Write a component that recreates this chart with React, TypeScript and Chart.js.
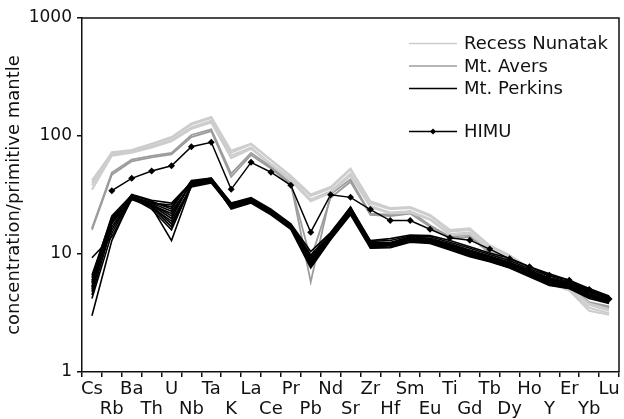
import React, { useEffect, useRef } from 'react';
import { Chart, registerables } from 'chart.js';

Chart.register(...registerables);

const elements = ['Cs', 'Rb', 'Ba', 'Th', 'U', 'Nb', 'Ta', 'K', 'La', 'Ce', 'Pr', 'Pb', 'Nd', 'Sr', 'Zr', 'Hf', 'Sm', 'Eu', 'Ti', 'Gd', 'Tb', 'Dy', 'Ho', 'Y', 'Er', 'Yb', 'Lu'];
const yTicks = [1, 10, 100, 1000];
const yTitle = 'concentration/primitive mantle';

const himu = [null, 34.4, 43.8, 50.5, 56, 81, 88.5, 35.3, 59.8, 49.3, 38.2, 15.3, 31.8, 30.2, 23.8, 19.2, 19.2, 16.2, 13.7, 13.1, 11, 9.1, 7.8, 6.6, 6.0, 5.0, 4.15];

const recess1 = [42, 72, 75, 85, 96, 125, 142, 72, 85, 62, 45, 31, 36, 52, 27, 24, 24.5, 21, 15.5, 16, 11.5, 9.6, 7.4, 5.9, 5.2, 3.7, 3.3];
const recess2 = [38, 70, 74, 82, 92, 118, 135, 68, 80, 58, 43, 29, 34, 48, 25.5, 22.5, 23, 19.8, 14.8, 15.2, 11, 9.2, 7.1, 5.7, 5.0, 3.5, 3.15];
const recess3 = [35, 68, 72, 80, 90, 115, 130, 65, 78, 57, 42, 28, 33, 46, 25, 22, 22.5, 19.5, 14.5, 14.8, 10.8, 9.0, 7.0, 5.6, 4.9, 3.3, 3.05];
const recess4 = [40, 73, 76, 86, 98, 128, 145, 75, 86, 63, 46, 32, 37, 53, 28, 24.5, 25, 21.5, 16, 16.5, 11.8, 9.8, 7.6, 6.0, 5.3, 3.8, 3.4];

const avers1 = [16.5, 49, 63, 68, 72, 102, 114, 48, 72, 55, 40, 5.8, 32, 43, 22, 21.5, 23, 17.5, 14, 14.5, 10.5, 8.8, 7.0, 5.8, 5.4, 3.9, 3.6];
const avers2 = [16, 47, 61, 66, 70, 98, 110, 45, 69, 53, 39, 9.0, 30, 41, 21.5, 21, 22, 17, 13.5, 14, 10.2, 8.6, 6.9, 5.7, 5.3, 3.8, 3.5];

const perkins1 = [3.0, 13, 30, 25, 13, 38, 42, 25, 28, 22, 17, 8.0, 14, 24, 12, 12, 13.5, 13, 11.5, 10, 9, 8, 6.8, 5.8, 5.4, 4.5, 4.0];
const perkins2 = [9.3, 14, 29, 27, 26, 40, 43, 27, 29, 23, 17.5, 9.5, 14.5, 25, 12.5, 12.5, 14, 13.5, 12, 10.5, 9.5, 8.4, 7.2, 6.2, 5.6, 4.8, 4.3];
const perkins3 = [5.0, 19, 31, 26, 20, 41, 44, 26, 29.5, 23.5, 17.8, 8.5, 14.8, 23.5, 11.5, 11.8, 13, 12.8, 11.2, 9.8, 8.8, 7.8, 6.6, 5.6, 5.2, 4.4, 3.9];
const perkins4 = [5.8, 20, 30.5, 27, 23, 39, 41, 24.5, 27.5, 22, 16.5, 7.8, 13.5, 22, 11.8, 12, 13.2, 13, 11.6, 10.2, 9.2, 8.1, 6.9, 5.9, 5.5, 4.6, 4.1];
const perkins5 = [4.5, 17, 29.5, 25.5, 18, 37, 40, 25, 28, 22.5, 16.8, 9.0, 13.8, 22.5, 11.3, 11.5, 12.8, 12.5, 11, 9.6, 8.7, 7.7, 6.5, 5.5, 5.1, 4.3, 3.85];
const perkins6 = [6.3, 21, 31.5, 28, 24, 42, 44, 27, 30, 24, 18, 10.5, 15.2, 25, 13, 13.5, 14.5, 14.3, 13, 11.5, 10.2, 9.2, 7.8, 6.8, 6.0, 5.1, 4.4];
const perkins7 = [5.3, 18, 30, 24, 16, 38.5, 42, 25.5, 28.5, 22.8, 17.2, 8.2, 14, 23, 11.6, 11.8, 13.1, 12.9, 11.4, 10, 9, 8, 6.8, 5.8, 5.3, 4.5, 4.0];
const perkins8 = [6.0, 16, 30, 26.5, 21, 40, 43, 26, 29, 23, 17.5, 9.2, 14.5, 24, 12.3, 12.4, 13.8, 13.6, 12.2, 10.8, 9.6, 8.5, 7.3, 6.3, 5.7, 4.9, 4.2];
const perkins9 = [4.8, 19.5, 31, 26, 22, 39.5, 42.5, 24, 27, 21.5, 16.2, 7.6, 13.2, 21.5, 11.2, 11.3, 12.6, 12.3, 10.8, 9.5, 8.6, 7.6, 6.4, 5.4, 5.1, 4.2, 3.8];
const perkins10 = [5.6, 18.5, 29, 25, 19, 37.5, 41, 25, 28.2, 22.4, 17, 8.6, 14.2, 23.5, 12, 12.2, 13.4, 13.2, 11.8, 10.4, 9.3, 8.3, 7.1, 6.0, 5.5, 4.7, 4.2];
const perkins11 = [6.6, 20.5, 30, 27.5, 25, 41, 43.5, 26.5, 29.5, 23.6, 17.8, 9.8, 15, 24.5, 12.8, 13, 14.2, 14, 12.6, 11.2, 9.9, 8.8, 7.5, 6.5, 5.8, 5.0, 4.3];
const perkins12 = [4.2, 15, 30, 25, 17, 38, 41.5, 25, 28, 22.2, 16.8, 8.3, 13.8, 22.8, 11.7, 11.9, 13, 12.8, 11.3, 9.9, 8.9, 7.9, 6.7, 5.7, 5.3, 4.4, 3.9];
const perkins13 = [5.2, 19, 32, 28.5, 27, 40.5, 43, 25.8, 28.8, 23, 17.3, 9.0, 14.3, 23.2, 12.1, 12.3, 13.6, 13.4, 12, 10.6, 9.4, 8.3, 7.0, 6.1, 5.6, 4.8, 4.2];

const recessSeries = [recess1, recess2, recess3, recess4];
const aversSeries = [avers1, avers2];
const perkinsSeries = [perkins1, perkins2, perkins3, perkins4, perkins5, perkins6, perkins7, perkins8, perkins9, perkins10, perkins11, perkins12, perkins13];

const legendLabels = ['Recess Nunatak', 'Mt. Avers', 'Mt. Perkins', 'HIMU'];

const RECESS_COLOR = '#cdcdcd';
const AVERS_COLOR = '#9c9c9c';
const PERKINS_COLOR = '#000000';
const FONT = '"DejaVu Sans", Verdana, sans-serif';

const boxPlugin = {
  id: 'boxPlugin',
  afterDraw(chart: any) {
    const { ctx, chartArea } = chart;
    ctx.save();
    ctx.strokeStyle = '#111';
    ctx.lineWidth = 1.5;
    ctx.beginPath();
    ctx.moveTo(chartArea.left, chartArea.top);
    ctx.lineTo(chartArea.right, chartArea.top);
    ctx.lineTo(chartArea.right, chartArea.bottom);
    ctx.stroke();
    ctx.restore();
  },
};

const legendPlugin = {
  id: 'customLegend',
  afterDatasetsDraw(chart: any) {
    const { ctx, chartArea } = chart;
    const x0 = chartArea.right - 210;
    const x1 = chartArea.right - 162;
    const tx = chartArea.right - 155;
    const rows = [
      { label: legendLabels[0], color: RECESS_COLOR, dy: 25.5, marker: false },
      { label: legendLabels[1], color: AVERS_COLOR, dy: 48, marker: false },
      { label: legendLabels[2], color: PERKINS_COLOR, dy: 70.5, marker: false },
      { label: legendLabels[3], color: PERKINS_COLOR, dy: 113.5, marker: true },
    ];
    ctx.save();
    ctx.font = `18px ${FONT}`;
    ctx.textBaseline = 'middle';
    ctx.textAlign = 'left';
    rows.forEach((r) => {
      const y = chartArea.top + r.dy;
      ctx.strokeStyle = r.color;
      ctx.lineWidth = 1.5;
      ctx.beginPath();
      ctx.moveTo(x0, y);
      ctx.lineTo(x1, y);
      ctx.stroke();
      if (r.marker) {
        const cx = (x0 + x1) / 2;
        ctx.fillStyle = '#000';
        ctx.beginPath();
        ctx.moveTo(cx, y - 3);
        ctx.lineTo(cx + 3, y);
        ctx.lineTo(cx, y + 3);
        ctx.lineTo(cx - 3, y);
        ctx.closePath();
        ctx.fill();
      }
      ctx.fillStyle = '#111';
      ctx.fillText(r.label, tx, y + 1);
    });
    ctx.restore();
  },
};

export default function App() {
  const canvasRef = useRef<HTMLCanvasElement | null>(null);

  useEffect(() => {
    if (!canvasRef.current) return;
    const mk = (data: any[], color: string, width: number) => ({
      data,
      borderColor: color,
      backgroundColor: color,
      borderWidth: width,
      pointRadius: 0,
      tension: 0,
      fill: false,
    });
    const datasets: any[] = [
      {
        data: himu,
        borderColor: '#000',
        backgroundColor: '#000',
        borderWidth: 1.5,
        pointStyle: 'rectRot',
        pointRadius: 3.5,
        pointBorderWidth: 0,
        tension: 0,
        fill: false,
        spanGaps: false,
      },
      ...perkinsSeries.map((s) => mk(s, PERKINS_COLOR, 1.6)),
      ...recessSeries.map((s) => mk(s, RECESS_COLOR, 2)),
      ...aversSeries.map((s) => mk(s, AVERS_COLOR, 1.8)),
    ];

    const chart = new Chart(canvasRef.current, {
      type: 'line',
      data: { labels: elements, datasets },
      options: {
        animation: false,
        responsive: false,
        maintainAspectRatio: false,
        layout: { padding: { top: 18, right: 5, left: 0, bottom: 0 } },
        plugins: { legend: { display: false }, tooltip: { enabled: false } },
        scales: {
          x: {
            type: 'category',
            offset: true,
            grid: {
              offset: true,
              drawOnChartArea: false,
              drawTicks: true,
              tickLength: 5,
              color: '#111',
              lineWidth: 1.5,
            },
            border: { display: true, color: '#111', width: 1.5 },
            ticks: {
              autoSkip: false,
              maxRotation: 0,
              minRotation: 0,
              padding: 2,
              color: '#111',
              font: { family: FONT, size: 18, lineHeight: 1.12 },
              callback: (_v: any, i: number) => (i % 2 === 0 ? [elements[i], ''] : ['', elements[i]]),
            },
            afterFit: (scale: any) => {
              scale.height = 47;
            },
          },
          y: {
            type: 'logarithmic',
            min: 1,
            max: 1000,
            afterBuildTicks: (scale: any) => {
              scale.ticks = yTicks.map((v) => ({ value: v }));
            },
            grid: {
              drawOnChartArea: false,
              drawTicks: true,
              tickLength: 5,
              color: '#111',
              lineWidth: 1.5,
            },
            border: { display: true, color: '#111', width: 1.5 },
            ticks: {
              padding: 5,
              color: '#111',
              font: { family: FONT, size: 17 },
              callback: (v: any) => String(v),
            },
            title: {
              display: true,
              text: yTitle,
              color: '#111',
              font: { family: FONT, size: 18 },
              padding: { top: 4, bottom: 0 },
            },
            afterFit: (scale: any) => {
              scale.width = 82;
            },
          },
        },
      },
      plugins: [boxPlugin, legendPlugin],
    });
    return () => chart.destroy();
  }, []);

  return (
    <div style={{ position: 'absolute', left: 0, top: 0, width: 624, height: 419, background: '#fff' }}>
      <canvas ref={canvasRef} width={624} height={419} />
    </div>
  );
}
